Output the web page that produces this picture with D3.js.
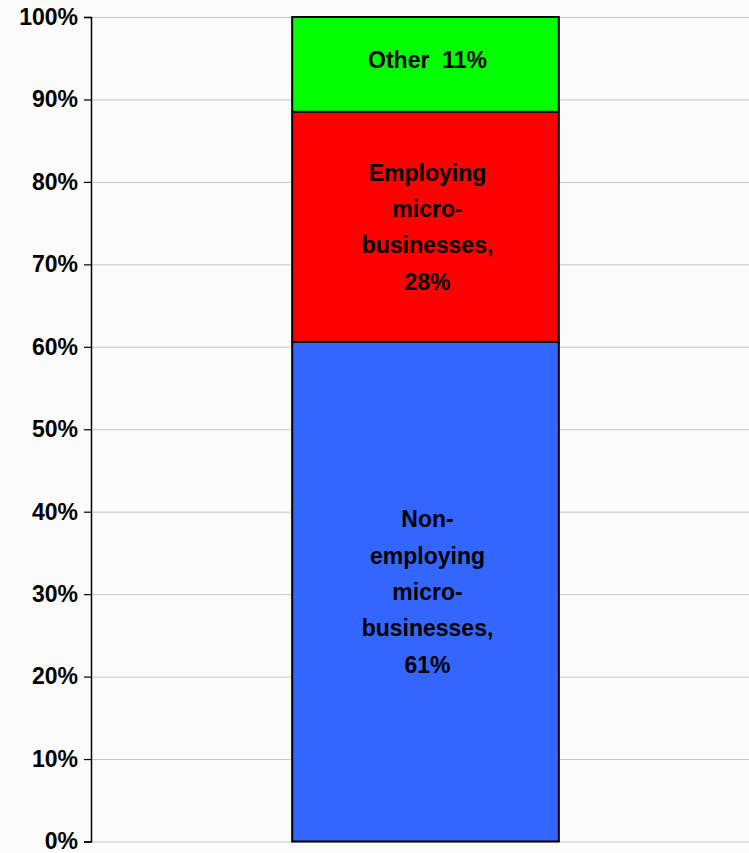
<!DOCTYPE html>
<html>
<head>
<meta charset="utf-8">
<script src="https://cdn.jsdelivr.net/npm/d3@7"></script>
<style>
  body { margin: 0; background: #fbfbfc; }
  svg text { font-family: "Liberation Sans", Arial, sans-serif; font-weight: bold; fill: #000; }
</style>
</head>
<body>
<div id="vis1"></div>
<script>
// segments of the single stacked bar, bottom to top
var categories = ["Non-employing micro-businesses", "Employing micro-businesses", "Other"];
var values = [60.6, 27.9, 11.5];
var colors = ["#3366ff", "#ff0000", "#00ff00"];
var labels = [
	["Non-", "employing", "micro-", "businesses,", "61%"],
	["Employing", "micro-", "businesses,", "28%"],
	["Other  11%"]
];
var yTicks = [0, 10, 20, 30, 40, 50, 60, 70, 80, 90, 100];

gen_vis();

function gen_vis()
{
	var w = 749;
	var h = 853;

	var svg = d3.select("#vis1")
		.append("svg")
		.attr("width", w)
		.attr("height", h);

	var y = d3.scaleLinear().domain([0, 100]).range([841.5, 17]);
	var x = d3.scaleBand().domain(["bar"]).range([91, 760]).padding(0.43);

	// gridlines
	svg.append("g")
		.attr("transform", "translate(91,0)")
		.call(d3.axisRight(y).tickValues(yTicks).tickSize(w - 91).tickFormat(""))
		.call(function(g){
			g.select(".domain").remove();
			g.selectAll("line").attr("stroke", "#c6c6c6").attr("stroke-width", 1);
		});

	// stacking
	var stacked = [];
	var acc = 0;
	values.forEach(function(v, i){
		stacked.push({ y0: acc, y1: acc + v, color: colors[i], lines: labels[i], name: categories[i] });
		acc += v;
	});

	svg.selectAll("rect.seg")
		.data(stacked)
		.enter()
		.append("rect")
		.attr("class", "seg")
		.attr("x", x("bar"))
		.attr("width", x.bandwidth())
		.attr("y", function(d){ return y(d.y1); })
		.attr("height", function(d){ return y(d.y0) - y(d.y1); })
		.attr("fill", function(d){ return d.color; })
		.attr("stroke", "#000")
		.attr("stroke-width", 2);

	var lineH = 36.3;
	svg.selectAll("text.seglabel")
		.data(stacked)
		.enter()
		.append("text")
		.attr("class", "seglabel")
		.attr("text-anchor", "middle")
		.attr("font-size", 23)
		.style("white-space", "pre")
		.each(function(d){
			var cy = (y(d.y0) + y(d.y1)) / 2;
			if (d.lines.length == 1) cy -= 5; // "Other" sits a bit high
			var firstBase = cy - (d.lines.length - 1) * lineH / 2 + 8.3;
			var t = d3.select(this);
			d.lines.forEach(function(s, i){
				t.append("tspan")
					.attr("x", x("bar") + x.bandwidth() / 2 + 2)
					.attr("y", firstBase + i * lineH)
					.text(s);
			});
		});

	// y axis
	svg.append("g")
		.attr("transform", "translate(91,0)")
		.call(d3.axisLeft(y).tickValues(yTicks).tickSize(7).tickPadding(6).tickFormat(function(d){ return d + "%"; }))
		.call(function(g){
			g.select(".domain").attr("stroke", "#000").attr("stroke-width", 1.5);
			g.selectAll("line").attr("stroke", "#000").attr("stroke-width", 1.2);
			g.selectAll("text")
				.attr("font-size", 23)
				.attr("font-family", "Liberation Sans, Arial, sans-serif")
				.attr("font-weight", "bold")
				.attr("fill", "#000");
		});
}
</script>
</body>
</html>
